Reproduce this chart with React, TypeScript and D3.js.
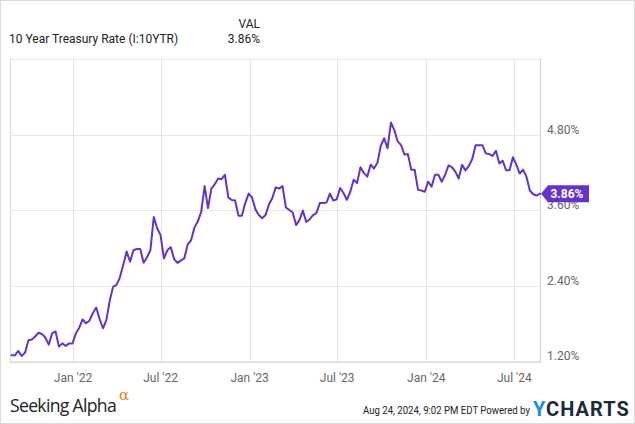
import React from 'react';
import * as d3 from 'd3';

const seriesName = '10 Year Treasury Rate (I:10YTR)';
const valHeader = 'VAL';
const lastValueLabel = '3.86%';
const startDate = new Date(2021, 7, 27);

// weekly values, Aug 27 2021 .. Aug 23 2024
const values: number[] = [
  1.29, 1.29, 1.36, 1.28, 1.33, 1.53, 1.54, 1.59, 1.65, 1.63,
  1.57, 1.46, 1.64, 1.67, 1.43, 1.48, 1.44, 1.48, 1.48, 1.64,
  1.73, 1.86, 1.80, 1.84, 1.96, 2.05, 1.87, 1.72, 1.85, 2.16,
  2.38, 2.41, 2.53, 2.73, 2.94, 2.78, 2.96, 2.98, 2.98, 2.76,
  2.85, 2.96, 3.49, 3.31, 3.20, 2.83, 2.96, 3.01, 2.82, 2.76,
  2.80, 2.83, 3.05, 3.12, 3.32, 3.42, 3.57, 3.98, 3.63, 3.94,
  4.01, 4.10, 4.09, 4.16, 3.80, 3.76, 3.75, 3.51, 3.51, 3.71,
  3.86, 3.80, 3.61, 3.52, 3.47, 3.52, 3.69, 3.79, 3.96, 3.94,
  3.98, 3.64, 3.60, 3.56, 3.36, 3.44, 3.59, 3.41, 3.45, 3.52,
  3.55, 3.71, 3.71, 3.72, 3.86, 3.75, 3.77, 3.95, 3.87, 3.76,
  3.89, 4.08, 4.03, 4.28, 4.19, 4.13, 4.32, 4.26, 4.35, 4.62,
  4.74, 4.58, 4.99, 4.87, 4.69, 4.63, 4.48, 4.49, 4.24, 4.24,
  3.92, 3.91, 3.89, 4.05, 3.97, 4.16, 4.16, 4.05, 4.16, 4.31,
  4.28, 4.21, 4.10, 4.32, 4.23, 4.30, 4.41, 4.63, 4.63, 4.63,
  4.50, 4.49, 4.46, 4.54, 4.34, 4.38, 4.23, 4.23, 4.44, 4.32,
  4.18, 4.24, 4.13, 3.91, 3.85, 3.83, 3.86,
];

const xTickDates = [
  new Date(2022, 0, 1), new Date(2022, 6, 1), new Date(2023, 0, 1),
  new Date(2023, 6, 1), new Date(2024, 0, 1), new Date(2024, 6, 1),
];
const xTickLabels = ["Jan '22", "Jul '22", "Jan '23", "Jul '23", "Jan '24", "Jul '24"];
const yGridValues = [1.2, 2.4, 3.6, 4.8, 6.0];
const yTickValues = [1.2, 2.4, 3.6, 4.8];
const yTickLabels = ['1.20%', '2.40%', '3.60%', '4.80%'];

const footerDate = 'Aug 24, 2024, 9:02 PM EDT Powered by';

export default function App() {
  const W = 635, H = 424;
  const left = 11, right = 540, top = 59, bottom = 361;
  const dates = values.map((_, i) => d3.timeDay.offset(startDate, 7 * i));
  const x = d3.scaleTime().domain([dates[0], dates[dates.length - 1]]).range([left + 0.5, right]);
  const y = d3.scaleLinear().domain([1.2, 6.0]).range([bottom, top]);
  const line = d3.line<number>().x((_, i) => x(dates[i])).y((d) => y(d)).curve(d3.curveLinear);
  const lastY = y(values[values.length - 1]);
  const font = 'Roboto, "Noto Sans", sans-serif';
  const purple = '#6434c8';

  return (
    <svg width={W} height={H} style={{ position: 'absolute', left: 0, top: 0, background: '#fff' }} fontFamily={font}>
      <rect x={0.5} y={0.5} width={W - 1} height={H - 1} fill="#fff" stroke="#dcdcdc" />
      {/* header */}
      <text x={260} y={28} textAnchor="end" fontSize={12} fill="#222">{valHeader}</text>
      <text x={9} y={43} fontSize={12} fill="#222">{seriesName}</text>
      <text x={260} y={43} textAnchor="end" fontSize={12} fill="#222">{lastValueLabel}</text>

      {/* grid */}
      {yGridValues.map((v) => (
        <line key={'gy' + v} x1={left - 0.5} x2={right} y1={Math.round(y(v)) + 0.5} y2={Math.round(y(v)) + 0.5} stroke="#e8e8e8" strokeWidth={1} />
      ))}
      {xTickDates.map((d, i) => (
        <line key={'gx' + i} x1={Math.round(x(d)) + 0.5} x2={Math.round(x(d)) + 0.5} y1={top - 0.5} y2={bottom + 1} stroke="#e4e4e4" strokeWidth={1} />
      ))}
      <line x1={left - 0.5} x2={left - 0.5} y1={top - 0.5} y2={bottom + 1} stroke="#dadada" />
      <line x1={left - 0.5} x2={right} y1={bottom + 1.5} y2={bottom + 1.5} stroke="#dadada" />
      <line x1={right + 0.5} x2={right + 0.5} y1={top - 0.5} y2={bottom + 2} stroke="#cfcfcf" />

      {/* y labels */}
      {yTickValues.map((v, i) => (
        <text key={'yl' + v} x={547} y={y(v) - 1} fontSize={12} fill="#666">{yTickLabels[i]}</text>
      ))}
      {/* x labels */}
      {xTickDates.map((d, i) => (
        <text key={'xl' + i} x={x(d)} y={382} textAnchor="middle" fontSize={12} fill="#666">{xTickLabels[i]}</text>
      ))}

      {/* line */}
      <path d={line(values) || ''} fill="none" stroke={purple} strokeWidth={2} strokeLinejoin="round" strokeLinecap="round" />

      {/* end tag */}
      <path d={`M${right + 1},${lastY} L${right + 8},${lastY - 8.5} L${589},${lastY - 8.5} L${589},${lastY + 8.5} L${right + 8},${lastY + 8.5} Z`} fill={purple} />
      <text x={567} y={lastY + 4.2} textAnchor="middle" fontSize={12} fontWeight="bold" fill="#fff">{lastValueLabel}</text>

      {/* footer */}
      <text x={10} y={412} fontSize={18} fill="#222" fontFamily='"Open Sans", sans-serif' letterSpacing={-0.7} textLength={106} lengthAdjust="spacingAndGlyphs">Seeking Alpha</text>
      <text x={119} y={400} fontSize={15} fill="#f5821f" fontFamily='"DejaVu Serif", serif'>α</text>
      <text x={363} y={414} fontSize={11.5} fill="#222" textLength={167} lengthAdjust="spacingAndGlyphs">{footerDate}</text>
      <text x={533} y={416} fontSize={20} fontWeight="bold" letterSpacing={1} fill="#1c2a3a">
        <tspan fill="#1a8fe3">Y</tspan>CHARTS
      </text>
    </svg>
  );
}
